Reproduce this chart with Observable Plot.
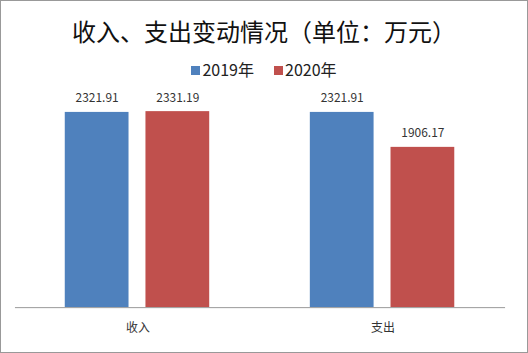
<!DOCTYPE html>
<html><head><meta charset="utf-8">
<script src="https://cdn.jsdelivr.net/npm/d3@7"></script>
<script src="https://cdn.jsdelivr.net/npm/@observablehq/plot@0.6"></script>
<style>
body{margin:0;background:#fff;}
#wrap{position:relative;width:526px;height:351px;border:1px solid #999;font-family:"Noto Sans CJK SC",sans-serif;overflow:hidden;}
#title{position:absolute;left:0;top:14px;width:100%;text-align:center;font-size:24px;line-height:32px;color:#111;}
#legend{position:absolute;left:0;top:57px;width:100%;text-align:center;font-size:16px;line-height:22px;color:#222;}
#legend span.sw{display:inline-block;width:9px;height:9px;margin-right:2px;vertical-align:1px;}
#legend span.it{margin:0 10px;}
#chart{position:absolute;left:0px;top:79px;}
</style></head>
<body>
<div id="wrap">
<div id="title">收入、支出变动情况（单位：万元）</div>
<div id="legend"></div>
<div id="chart"></div>
</div>
<script>
const categories = ["收入", "支出"];
const years = ["2019年", "2020年"];
const values2019 = [2321.91, 2321.91];
const values2020 = [2331.19, 1906.17];
const colors = ["#4F81BD", "#C0504D"];

const data = [];
categories.forEach((c, i) => {
  data.push({cat: c, year: years[0], value: values2019[i]});
  data.push({cat: c, year: years[1], value: values2020[i]});
});

document.getElementById("legend").innerHTML = years.map((y, i) =>
  `<span class="it"><span class="sw" style="background:${colors[i]}"></span>${y}</span>`).join("");

const chart = Plot.plot({
  width: 528, height: 270,
  marginTop: 17, marginBottom: 42, marginLeft: 14, marginRight: 22,
  style: {fontFamily: "'Noto Sans CJK SC', sans-serif", background: "transparent"},
  fx: {domain: categories, padding: 0, label: null, axis: null},
  x: {domain: years, axis: null, paddingInner: 0.207, paddingOuter: 0.604},
  y: {domain: [0, 2500], axis: null},
  color: {domain: years, range: colors},
  marks: [
    Plot.barY(data, {fx: "cat", x: "year", y: "value", fill: "year"}),
    Plot.text(data, {fx: "cat", x: "year", y: "value", text: d => d.value.toFixed(2), dy: -14, fontSize: 12, fill: "#333"}),
    Plot.ruleY([0], {stroke: "#999"}),
    Plot.axisFx({anchor: "bottom", tickSize: 0, tickPadding: 16, fontSize: 12, label: null, color: "#333"})
  ]
});
document.getElementById("chart").appendChild(chart);
</script>
</body></html>
